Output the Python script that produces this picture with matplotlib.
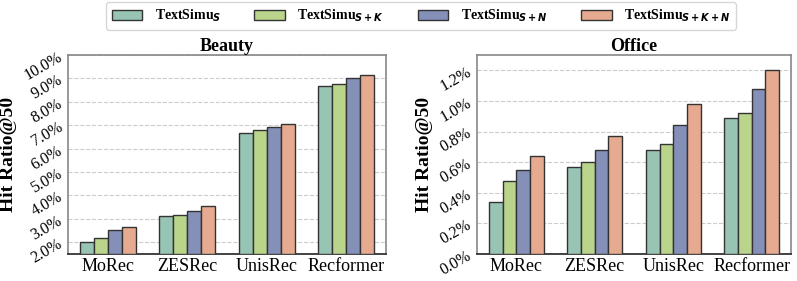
import matplotlib
matplotlib.use("Agg")
import matplotlib.pyplot as plt
import numpy as np
from matplotlib.ticker import FuncFormatter

plt.rcParams['font.family'] = ['Liberation Serif', 'DejaVu Serif']
plt.rcParams['mathtext.fontset'] = 'dejavusans'

categories = ["MoRec", "ZESRec", "UnisRec", "Recformer"]
series_labels = [r"TextSimu$_{\mathbfit{S}}$", r"TextSimu$_{\mathbfit{S+K}}$",
                 r"TextSimu$_{\mathbfit{S+N}}$", r"TextSimu$_{\mathbfit{S+K+N}}$"]
beauty = [
    [2.03, 3.13, 6.67, 8.66],
    [2.17, 3.17, 6.80, 8.77],
    [2.54, 3.34, 6.94, 9.03],
    [2.64, 3.56, 7.06, 9.16],
]
office = [
    [0.34, 0.57, 0.68, 0.89],
    [0.48, 0.60, 0.72, 0.92],
    [0.55, 0.68, 0.84, 1.08],
    [0.64, 0.77, 0.98, 1.20],
]
colors = ['#98c4b4', '#bad48c', '#8590b8', '#e6aa90']

fig = plt.figure(figsize=(7.97, 2.81), dpi=100)
W, H = 797, 281
ax1 = fig.add_axes([68/W, 1-254/H, 318/W, 199/H])
ax2 = fig.add_axes([477/W, 1-254/H, 314/W, 199/H])

x = np.arange(len(categories))
bw = 0.175

def draw(ax, data, ylim, ticks, title, fmt):
    for i, vals in enumerate(data):
        ax.bar(x + (i - 1.5) * bw, [v - ylim[0] for v in vals], bw, bottom=ylim[0],
               color=colors[i], edgecolor='#333333', linewidth=1.0,
               label=series_labels[i], zorder=3)
    ax.set_ylim(*ylim)
    ax.set_xlim(-0.5, 3.5)
    ax.set_yticks(ticks)
    ax.yaxis.set_major_formatter(FuncFormatter(lambda v, p: fmt % v))
    ax.set_xticks(x)
    ax.set_xticklabels(categories, fontsize=13)
    ax.grid(axis='y', linestyle='--', color='#cccccc', linewidth=0.8, zorder=0)
    ax.tick_params(axis='y', labelsize=11.5, rotation=30, length=0, pad=2)
    ax.tick_params(axis='x', length=0, pad=3)
    ax.set_title(title, fontsize=13, fontweight='bold', pad=3)
    ax.set_ylabel("Hit Ratio@50", fontsize=14, fontweight='bold', labelpad=3)
    for s in ['left', 'top', 'right']:
        ax.spines[s].set_color('#888888')
        ax.spines[s].set_linewidth(1.2)
    ax.spines['bottom'].set_color('#222222')
    ax.spines['bottom'].set_linewidth(1.2)

draw(ax1, beauty, (1.5, 10.0), np.arange(2.0, 10.01, 1.0), "Beauty", "%.1f%%")
draw(ax2, office, (0.0, 1.3), np.arange(0.0, 1.21, 0.2), "Office", "%.1f%%")

h, l = ax1.get_legend_handles_labels()
fig.legend(h, l, loc='center', bbox_to_anchor=(421/W, 1-16/H), ncol=4,
           frameon=True, edgecolor='#cccccc', fancybox=True,
           handlelength=2.2, handleheight=0.7, columnspacing=2.4, handletextpad=0.9,
           prop={'weight': 'bold', 'size': 10})

fig.savefig("out.png", dpi=100)
